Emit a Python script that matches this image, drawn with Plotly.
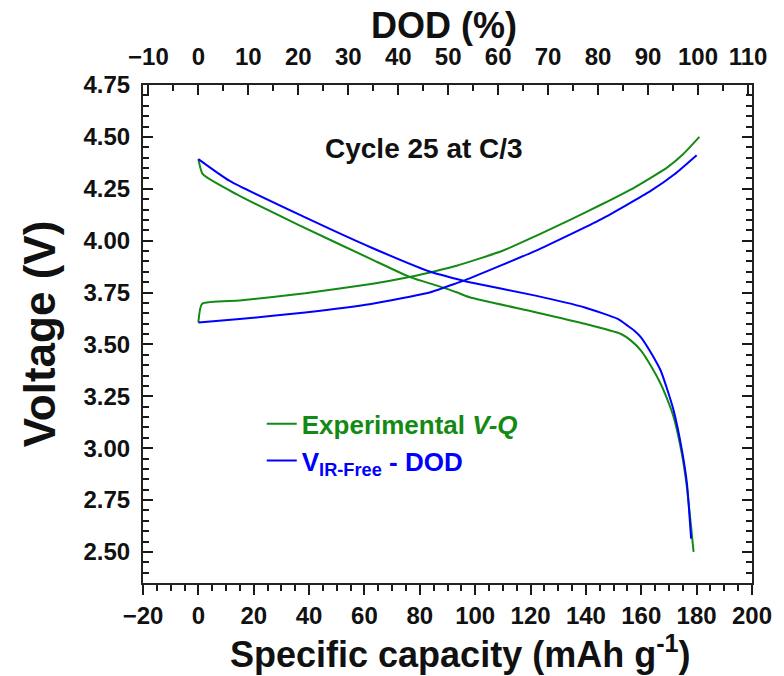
import plotly.graph_objects as go

# ---- data ----
# Experimental V-Q (green)
exp_charge_cap = [0, 1.3, 14.9, 38.6, 62.4, 76.7, 86.2, 93.3, 109.9, 121.8, 133.7, 145.6, 157.5, 169.3, 175, 181]
exp_charge_v = [3.606, 3.695, 3.711, 3.746, 3.791, 3.826, 3.855, 3.879, 3.951, 4.022, 4.096, 4.174, 4.256, 4.352, 4.415, 4.50]
exp_dis_cap = [0, 1.6, 13.7, 36.3, 62.4, 76.7, 86.2, 93.3, 98, 121.8, 139.6, 152.7, 156.3, 159.9, 163.4, 167, 169.3, 171.7, 174.7, 176.5, 178, 178.9]
exp_dis_v = [4.393, 4.32, 4.224, 4.075, 3.911, 3.823, 3.783, 3.751, 3.727, 3.655, 3.599, 3.55, 3.518, 3.47, 3.398, 3.31, 3.238, 3.149, 2.97, 2.81, 2.62, 2.50]

# V_IR-Free - DOD (blue)
irf_charge_cap = [0, 14.9, 38.6, 62.4, 83.8, 93.3, 98, 121.8, 145.6, 163.4, 172, 180]
irf_charge_v = [3.606, 3.622, 3.654, 3.695, 3.751, 3.795, 3.818, 3.951, 4.104, 4.24, 4.32, 4.412]
irf_dis_cap = [0, 11.3, 38.6, 62.4, 83.8, 93.3, 98, 121.8, 139.6, 151.5, 155.1, 157.5, 159.9, 163.4, 167, 169.3, 171.7, 174.7, 176.5, 178]
irf_dis_v = [4.393, 4.288, 4.112, 3.967, 3.85, 3.815, 3.799, 3.735, 3.678, 3.623, 3.59, 3.566, 3.534, 3.462, 3.374, 3.286, 3.181, 2.989, 2.829, 2.564]

cap_per_dod = 1.805  # mAh/g per % DOD (100 % DOD ~ 180.5 mAh/g)
x_range = [-20, 200]
y_range = [2.35, 4.75]
dod_ticks = [-10, 0, 10, 20, 30, 40, 50, 60, 70, 80, 90, 100, 110]

GREEN = "#138a13"
BLUE = "#0000ff"
AX = "#222222"
TICK = "#1a1a1a"
TXT = "#111111"
FONT = "Liberation Sans, Arial, sans-serif"

fig = go.Figure()

fig.add_trace(go.Scatter(
    x=exp_charge_cap + [None] + exp_dis_cap,
    y=exp_charge_v + [None] + exp_dis_v,
    mode="lines", line=dict(color=GREEN, width=2, shape="spline", smoothing=0.5),
    name="<span style='color:%s'>Experimental <i>V-Q</i></span>" % GREEN,
))
fig.add_trace(go.Scatter(
    x=irf_charge_cap + [None] + irf_dis_cap,
    y=irf_charge_v + [None] + irf_dis_v,
    mode="lines", line=dict(color=BLUE, width=2, shape="spline", smoothing=0.5),
    name="<span style='color:%s'>V<sub>IR-Free</sub> - DOD</span>" % BLUE,
))
# invisible trace to activate the DOD (top) axis
fig.add_trace(go.Scatter(
    x=[dod_ticks[1], dod_ticks[-2]], y=[3.0, 3.0], xaxis="x2",
    mode="lines", line=dict(width=0, color="rgba(0,0,0,0)"),
    showlegend=False, hoverinfo="skip",
))

tickfont = dict(family=FONT, size=24, color=TXT, weight="bold")

fig.update_layout(
    width=784, height=676,
    margin=dict(l=143, r=24, t=85, b=93),
    paper_bgcolor="white", plot_bgcolor="white",
    showlegend=True,
    legend=dict(
        x=0.195, y=0.367, xanchor="left", yanchor="top",
        bgcolor="rgba(0,0,0,0)", borderwidth=0,
        font=dict(family=FONT, size=26, weight="bold"),
        tracegroupgap=0,
    ),
    xaxis=dict(
        range=x_range, dtick=20, tick0=0,
        showline=True, linecolor=AX, linewidth=2, mirror=False,
        ticks="outside", ticklen=10, tickwidth=2, tickcolor=TICK,
        minor=dict(ticks="outside", ticklen=6, tickwidth=2, tickcolor=TICK, dtick=5),
        showgrid=False, zeroline=False,
        tickfont=tickfont,
    ),
    xaxis2=dict(
        overlaying="x", side="top",
        range=[x_range[0] / cap_per_dod, x_range[1] / cap_per_dod],
        tickvals=dod_ticks,
        showline=True, linecolor=AX, linewidth=2,
        ticks="inside", ticklen=10, tickwidth=2, tickcolor=TICK,
        minor=dict(ticks="inside", ticklen=6, tickwidth=2, tickcolor=TICK, dtick=5),
        showgrid=False, zeroline=False,
        tickfont=tickfont, ticklabelstandoff=8,
    ),
    yaxis=dict(
        range=y_range, dtick=0.25, tick0=2.5, tickformat=".2f",
        showline=True, linecolor=AX, linewidth=2, mirror="ticks",
        ticks="inside", ticklen=10, tickwidth=2, tickcolor=TICK,
        minor=dict(ticks="inside", ticklen=6, tickwidth=2, tickcolor=TICK, dtick=0.05),
        showgrid=False, zeroline=False,
        tickfont=tickfont, ticklabelstandoff=6,
        title=dict(text="Voltage (V)",
                   font=dict(family=FONT, size=44, color=TXT, weight="bold"),
                   standoff=14),
    ),
    annotations=[
        dict(text="Cycle 25 at C/3", x=0.462, y=0.873, xref="paper", yref="paper",
             xanchor="center", yanchor="middle", showarrow=False,
             font=dict(family=FONT, size=28, color=TXT, weight="bold")),
        dict(text="Specific capacity (mAh g<sup>-1</sup>)", x=0.522, y=-0.138,
             xref="paper", yref="paper", xanchor="center", yanchor="middle",
             showarrow=False,
             font=dict(family=FONT, size=36, color=TXT, weight="bold")),
        dict(text="DOD (%)", x=0.495, y=1.12, xref="paper", yref="paper",
             xanchor="center", yanchor="middle", showarrow=False,
             font=dict(family=FONT, size=36, color=TXT, weight="bold")),
    ],
)

fig.write_html("out.html")
